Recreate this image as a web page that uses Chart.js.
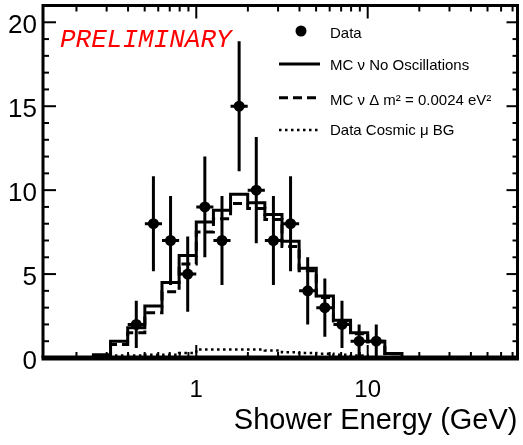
<!DOCTYPE html>
<html><head><meta charset="utf-8">
<script src="https://cdn.jsdelivr.net/npm/chart.js@4.4.0/dist/chart.umd.min.js"></script>
<style>html,body{margin:0;padding:0;background:#fff;}canvas{display:block;}</style>
</head><body>
<canvas id="c" width="523" height="445"></canvas>
<script>
// ---- data ----
const binEdges = [0.2512,0.3162,0.3981,0.5012,0.6310,0.7943,1.0,1.2589,1.5849,1.9953,2.5119,3.1623,3.9811,5.0119,6.3096,7.9433,10.0,12.589,15.849];
const mcNoOsc  = [0.2,1.0,1.8,3.1,4.5,6.1,8.1,8.8,9.75,9.25,8.55,6.95,5.35,3.7,2.25,1.5,1.0,0.27];
const mcOsc    = [0.15,0.8,1.5,2.7,3.95,5.6,7.5,8.3,9.2,8.9,8.25,6.65,5.2,3.6,2.2,1.45,0.95,0.25];
const cosmicBG = [0,0.15,0.15,0.2,0.2,0.3,0.5,0.5,0.5,0.5,0.45,0.35,0.3,0.25,0.2,0.15,0,0];
const dataX    = [0.4467,0.5623,0.7079,0.8913,1.1220,1.4125,1.7783,2.2387,2.8184,3.5481,4.4668,5.6234,7.0795,8.9125,11.220];
const dataLo   = [0.3981,0.5012,0.6310,0.7943,1.0,1.2589,1.5849,1.9953,2.5119,3.1623,3.9811,5.0119,6.3096,7.9433,10.0];
const dataHi   = [0.5012,0.6310,0.7943,1.0,1.2589,1.5849,1.9953,2.5119,3.1623,3.9811,5.0119,6.3096,7.9433,10.0,12.589];
const dataY    = [2,8,7,5,9,7,15,10,7,8,4,3,2,1,1];
const dataErr  = [1.41,2.83,2.65,2.24,3.00,2.65,3.87,3.16,2.65,2.83,2.00,1.73,1.41,1.00,1.00];
const xTickValues = [1, 10];
const xMinorValues = [0.2,0.3,0.4,0.5,0.6,0.7,0.8,0.9,2,3,4,5,6,7,8,9,20,30,40,50,60,70];
const yTickValues = [0, 5, 10, 15, 20];
const yMinorValues = [1,2,3,4,6,7,8,9,11,12,13,14,16,17,18,19,21];
const xTitle = 'Shower Energy (GeV)';
const prelimText = 'PRELIMINARY';
const labels = ['Data','MC \u03bd No Oscillations','MC \u03bd \u0394 m\u00b2 = 0.0024 eV\u00b2','Data Cosmic \u03bc BG'];

// ---- build library tables ----
function stepPoints(edges, vals){
  const pts=[{x:edges[0],y:0}];
  vals.forEach((v,i)=>pts.push({x:edges[i],y:v}));
  pts.push({x:edges[vals.length],y:vals[vals.length-1]});
  pts.push({x:edges[vals.length],y:0});
  return pts;
}
const vErr=[], hErr=[];
dataX.forEach((x,i)=>{
  vErr.push({x:x,y:dataY[i]-dataErr[i]},{x:x,y:dataY[i]+dataErr[i]},{x:x,y:null});
  hErr.push({x:dataLo[i],y:dataY[i]},{x:dataHi[i],y:dataY[i]},{x:dataHi[i],y:null});
});
const pts = dataX.map((x,i)=>({x:x,y:dataY[i]}));

const SANS = "'Liberation Sans', Arial, Helvetica, sans-serif";

const decor = {
  id:'decor',
  afterDraw(chart){
    const ctx=chart.ctx, a=chart.chartArea, xs=chart.scales.x, ys=chart.scales.y;
    ctx.save();
    ctx.strokeStyle='#000'; ctx.lineCap='butt';
    ctx.lineWidth=2;
    const tick=(x1,y1,x2,y2)=>{ctx.beginPath();ctx.moveTo(x1,y1);ctx.lineTo(x2,y2);ctx.stroke();};
    yTickValues.forEach(v=>{const p=ys.getPixelForValue(v);tick(a.left,p,a.left+13,p);tick(a.right,p,a.right-11,p);});
    yMinorValues.forEach(v=>{const p=ys.getPixelForValue(v);tick(a.left,p,a.left+6,p);tick(a.right,p,a.right-5,p);});
    xTickValues.forEach(v=>{const p=xs.getPixelForValue(v);tick(p,a.bottom,p,a.bottom-13);tick(p,a.top,p,a.top+13);});
    xMinorValues.forEach(v=>{const p=xs.getPixelForValue(v);if(p>a.left&&p<a.right){tick(p,a.bottom,p,a.bottom-6);tick(p,a.top,p,a.top+6);}});
    ctx.lineWidth=3;
    ctx.beginPath();
    ctx.moveTo(a.left,a.bottom);ctx.lineTo(a.left,a.top);ctx.lineTo(a.right,a.top);ctx.lineTo(a.right,a.bottom);
    ctx.stroke();
    ctx.lineWidth=5;
    ctx.beginPath();ctx.moveTo(a.left-1.5,a.bottom);ctx.lineTo(a.right+1.5,a.bottom);ctx.stroke();
    ctx.fillStyle='#ff0000';
    ctx.font="italic 26px 'Liberation Mono', 'Courier New', monospace";
    ctx.textBaseline='alphabetic'; ctx.textAlign='left';
    ctx.fillText(prelimText,60,47);
    const ds=chart.data.datasets;
    ctx.fillStyle='#000';
    ctx.font="15px "+SANS;
    const rows=[{y:31,ty:37.5},{y:64,ty:69.5},{y:97.7,ty:104.5},{y:130,ty:135.3}];
    const tx=330, x1=279, x2=320;
    ctx.beginPath();ctx.arc(301,rows[0].y,5.5,0,Math.PI*2);ctx.fill();
    ctx.fillText(ds[0].label,tx,rows[0].ty);
    const line=(r,w,dash)=>{ctx.lineWidth=w;ctx.setLineDash(dash);ctx.beginPath();ctx.moveTo(x1,r.y);ctx.lineTo(x2,r.y);ctx.stroke();ctx.setLineDash([]);};
    line(rows[1],3,[]); ctx.fillText(ds[3].label,tx,rows[1].ty);
    line(rows[2],3,[9,5]); ctx.fillText(ds[4].label,tx,rows[2].ty);
    line(rows[3],2.5,[2.5,3.5]); ctx.fillText(ds[5].label,tx,rows[3].ty);
    ctx.restore();
  }
};

new Chart(document.getElementById('c'),{
  type:'line',
  data:{datasets:[
    {label:labels[0],data:pts,showLine:false,pointRadius:5.5,pointHoverRadius:5.5,pointBackgroundColor:'#000',pointBorderWidth:0,borderColor:'#000'},
    {label:'errV',data:vErr,borderColor:'#000',borderWidth:3,pointRadius:0,spanGaps:false},
    {label:'errH',data:hErr,borderColor:'#000',borderWidth:3,pointRadius:0,spanGaps:false},
    {label:labels[1],data:stepPoints(binEdges,mcNoOsc),stepped:'before',borderColor:'#000',borderWidth:3,pointRadius:0,fill:false},
    {label:labels[2],data:stepPoints(binEdges,mcOsc),stepped:'before',borderColor:'#000',borderWidth:3,borderDash:[9,5],pointRadius:0,fill:false},
    {label:labels[3],data:stepPoints(binEdges,cosmicBG),stepped:'before',borderColor:'#000',borderWidth:2.5,borderDash:[2.5,3.5],pointRadius:0,fill:false}
  ]},
  options:{
    responsive:false, animation:false, devicePixelRatio:1,
    layout:{padding:{top:3,right:5,left:0,bottom:0}},
    plugins:{legend:{display:false},tooltip:{enabled:false}},
    scales:{
      x:{type:'logarithmic',min:0.1276,max:74.8,
        grid:{display:false,drawTicks:false},border:{display:false},
        afterBuildTicks:s=>{s.ticks=xTickValues.map(v=>({value:v,major:true}));},
        afterFit:s=>{s.height=87;s.paddingLeft=0;s.paddingRight=0;},
        ticks:{autoSkip:false,maxRotation:0,padding:18,color:'#000',font:{family:SANS,size:24},callback:v=>String(v)},
        title:{display:true,text:xTitle,align:'end',color:'#000',font:{family:SANS,size:29},padding:{top:0,bottom:7}}
      },
      y:{type:'linear',min:0,max:21,
        grid:{display:false,drawTicks:false},border:{display:false},
        afterBuildTicks:s=>{s.ticks=yTickValues.map(v=>({value:v}));},
        afterFit:s=>{s.width=43;s.paddingTop=0;s.paddingBottom=0;},
        ticks:{padding:6,labelOffset:4,color:'#000',font:{family:SANS,size:26},callback:v=>String(v)}
      }
    }
  },
  plugins:[decor]
});
</script>
</body></html>
